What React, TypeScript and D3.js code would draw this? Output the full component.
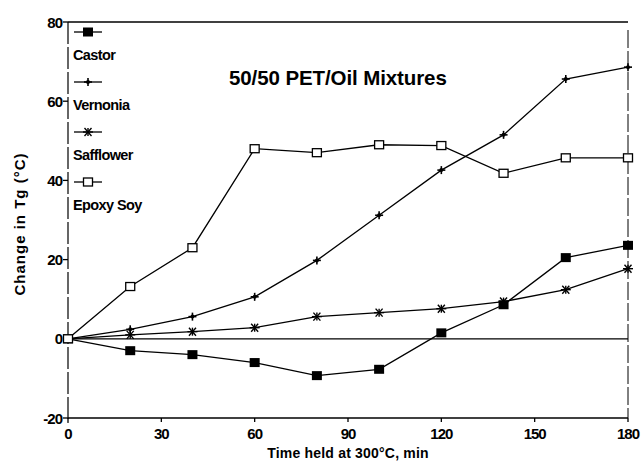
import React from "react";
import * as d3 from "d3";

const times = [0, 20, 40, 60, 80, 100, 120, 140, 160, 180];
const castor = [0, -3, -4, -6, -9.3, -7.7, 1.5, 8.6, 20.5, 23.6];
const vernonia = [0, 2.4, 5.6, 10.6, 19.8, 31.2, 42.6, 51.5, 65.6, 68.6];
const safflower = [0, 1, 1.8, 2.8, 5.6, 6.6, 7.6, 9.4, 12.4, 17.7];
const epoxySoy = [0, 13.2, 23, 48, 47, 49, 48.8, 41.8, 45.7, 45.7];
const seriesNames = ["Castor", "Vernonia", "Safflower", "Epoxy Soy"];
const markerTypes = ["square", "plus", "star", "openSquare"];
const xTicks = [0, 30, 60, 90, 120, 150, 180];
const yTicks = [-20, 0, 20, 40, 60, 80];

const W = 644, H = 466;
const left = 68, right = 628, top = 22, bottom = 418;
const font = "'Liberation Sans', Arial, sans-serif";

function Marker({ type, x, y }: { type: string; x: number; y: number }) {
  if (type === "square") return <rect x={x - 5} y={y - 4.5} width={10} height={9} fill="#000" />;
  if (type === "openSquare")
    return <rect x={x - 4.5} y={y - 4} width={9} height={8} fill="#fff" stroke="#000" strokeWidth={1.3} />;
  if (type === "plus")
    return (
      <g stroke="#000" strokeWidth={1.6}>
        <line x1={x - 4} y1={y} x2={x + 4} y2={y} />
        <line x1={x} y1={y - 4} x2={x} y2={y + 4} />
        <circle cx={x} cy={y} r={2} fill="#000" stroke="none" />
      </g>
    );
  return (
    <g stroke="#000" strokeWidth={1.4}>
      <line x1={x - 5} y1={y} x2={x + 5} y2={y} />
      <line x1={x - 3.5} y1={y - 4} x2={x + 3.5} y2={y + 4} />
      <line x1={x - 3.5} y1={y + 4} x2={x + 3.5} y2={y - 4} />
      <line x1={x} y1={y - 4} x2={x} y2={y + 4} />
    </g>
  );
}

export default function App() {
  const x = d3.scaleLinear().domain([0, 180]).range([left, right]);
  const y = d3.scaleLinear().domain([-20, 80]).range([bottom, top]);
  const allSeries = [castor, vernonia, safflower, epoxySoy];
  const line = d3
    .line<number>()
    .x((_, i) => x(times[i]))
    .y((d) => y(d));

  return (
    <svg
      width={W}
      height={H}
      style={{ position: "absolute", left: 0, top: 0, background: "#fff" }}
      fontFamily={font}
    >
      <rect width={W} height={H} fill="#fff" />
      {/* frame */}
      <line x1={left} y1={top} x2={right} y2={top} stroke="#000" strokeWidth={1.4} />
      <line x1={right} y1={top + 8} x2={right} y2={bottom} stroke="#000" strokeWidth={1} strokeDasharray="18 3" />
      <line x1={left} y1={top} x2={left} y2={bottom + 5} stroke="#000" strokeWidth={1.2} strokeDasharray="22 3" />
      <line x1={left} y1={bottom} x2={right} y2={bottom} stroke="#000" strokeWidth={1.5} />
      <line x1={left} y1={y(0)} x2={right} y2={y(0)} stroke="#000" strokeWidth={1.2} />
      {/* y ticks */}
      {yTicks.map((t) => (
        <g key={t}>
          <line x1={left - 5} y1={y(t)} x2={left} y2={y(t)} stroke="#000" strokeWidth={1.3} />
          <text
            x={left - 6}
            y={y(t) + 5.5}
            textAnchor="end"
            fontSize={15}
            fontWeight="bold"
            letterSpacing={-1}
          >
            {t}
          </text>
        </g>
      ))}
      {/* x ticks */}
      {xTicks.map((t) => (
        <g key={t}>
          <line x1={x(t)} y1={bottom} x2={x(t)} y2={bottom + 4} stroke="#000" strokeWidth={1.3} />
          <text x={x(t)} y={bottom + 21} textAnchor="middle" fontSize={15} fontWeight="bold" letterSpacing={-1}>
            {t}
          </text>
        </g>
      ))}
      {/* axis titles */}
      <text x={348} y={458} textAnchor="middle" fontSize={14} fontWeight="bold" letterSpacing={0.2}>
        Time held at 300°C, min
      </text>
      <text
        transform={`translate(25, ${(top + bottom) / 2 + 4}) rotate(-90)`}
        textAnchor="middle"
        fontSize={15}
        fontWeight="bold"
        letterSpacing={1}
      >
        Change in Tg (°C)
      </text>
      {/* title */}
      <text x={229} y={85} fontSize={20.5} fontWeight="bold" letterSpacing={-0.1}>
        50/50 PET/Oil Mixtures
      </text>
      {/* series */}
      {allSeries.map((s, si) => (
        <g key={si}>
          <path d={line(s) || ""} fill="none" stroke="#000" strokeWidth={1.3} />
          {s.map((v, i) => (
            <Marker key={i} type={markerTypes[si]} x={x(times[i])} y={y(v)} />
          ))}
        </g>
      ))}
      {/* legend */}
      {seriesNames.map((n, i) => {
        const ly = 32 + i * 50;
        return (
          <g key={n}>
            <line x1={74} y1={ly} x2={102} y2={ly} stroke="#000" strokeWidth={1.3} />
            <Marker type={markerTypes[i]} x={88} y={ly} />
            <text x={73} y={ly + 28} fontSize={14.5} fontWeight="bold" letterSpacing={-0.6}>
              {n}
            </text>
          </g>
        );
      })}
    </svg>
  );
}
